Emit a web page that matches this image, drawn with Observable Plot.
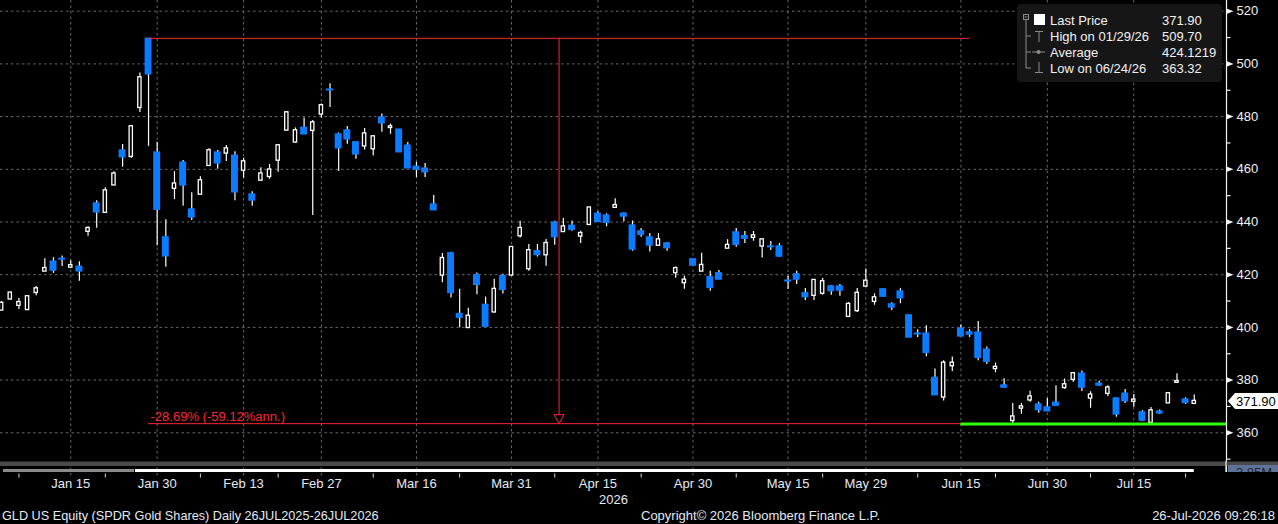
<!DOCTYPE html>
<html><head><meta charset="utf-8">
<script src="https://cdn.jsdelivr.net/npm/d3@7"></script>
<script src="https://cdn.jsdelivr.net/npm/@observablehq/plot@0.6"></script>
<style>
html,body{margin:0;padding:0;background:#000;}
#wrap{position:relative;width:1278px;height:524px;overflow:hidden;background:#000;}
#wrap svg{display:block;}
#over{position:absolute;left:0;top:0;pointer-events:none;}
</style></head><body><div id="wrap"></div>
<script>
// ---- data: trading days (GLD daily, Jan–Jul 2026) ----
const dates = [
"2026-01-05","2026-01-06","2026-01-07","2026-01-08","2026-01-09","2026-01-12","2026-01-13","2026-01-14","2026-01-15","2026-01-16",
"2026-01-20","2026-01-21","2026-01-22","2026-01-23","2026-01-26","2026-01-27","2026-01-28","2026-01-29","2026-01-30",
"2026-02-02","2026-02-03","2026-02-04","2026-02-05","2026-02-06","2026-02-09","2026-02-10","2026-02-11","2026-02-12","2026-02-13",
"2026-02-17","2026-02-18","2026-02-19","2026-02-20","2026-02-23","2026-02-24","2026-02-25","2026-02-26","2026-02-27",
"2026-03-02","2026-03-03","2026-03-04","2026-03-05","2026-03-06","2026-03-09","2026-03-10","2026-03-11","2026-03-12","2026-03-13",
"2026-03-16","2026-03-17","2026-03-18","2026-03-19","2026-03-20","2026-03-23","2026-03-24","2026-03-25","2026-03-26","2026-03-27","2026-03-30","2026-03-31",
"2026-04-01","2026-04-02","2026-04-06","2026-04-07","2026-04-08","2026-04-09","2026-04-10","2026-04-13","2026-04-14","2026-04-15",
"2026-04-16","2026-04-17","2026-04-20","2026-04-21","2026-04-22","2026-04-23","2026-04-24","2026-04-27","2026-04-28","2026-04-29","2026-04-30",
"2026-05-01","2026-05-04","2026-05-05","2026-05-06","2026-05-07","2026-05-08","2026-05-11","2026-05-12","2026-05-13","2026-05-14","2026-05-15",
"2026-05-18","2026-05-19","2026-05-20","2026-05-21","2026-05-22","2026-05-26","2026-05-27","2026-05-28","2026-05-29",
"2026-06-01","2026-06-02","2026-06-03","2026-06-04","2026-06-05","2026-06-08","2026-06-09","2026-06-10","2026-06-11","2026-06-12",
"2026-06-15","2026-06-16","2026-06-17","2026-06-18","2026-06-22","2026-06-23","2026-06-24","2026-06-25","2026-06-26","2026-06-29","2026-06-30",
"2026-07-01","2026-07-02","2026-07-06","2026-07-07","2026-07-08","2026-07-09","2026-07-10","2026-07-13","2026-07-14","2026-07-15",
"2026-07-16","2026-07-17","2026-07-20","2026-07-21","2026-07-22","2026-07-23","2026-07-24"];

const open = [406.6,410.8,408.4,406.8,413.3,421.4,424.9,426.0,422.9,423.0,
436.5,447.0,443.7,454.1,467.1,464.9,483.5,509.5,466.3,
434.1,452.8,462.5,444.7,450.6,461.5,466.3,466.2,465.1,459.7,
450.4,455.9,457.3,463.5,474.9,470.4,475.7,474.8,481.0,
490.2,473.2,474.7,470.2,468.9,467.8,479.6,475.9,475.0,468.9,
460.9,460.2,446.6,419.9,428.1,405.0,400.0,419.8,408.5,405.9,419.4,419.9,
434.8,422.3,428.9,427.6,439.7,436.4,438.5,434.7,439.1,443.1,
442.4,445.6,443.1,438.6,436.4,434.1,431.2,431.8,420.8,417.0,425.8,
421.4,419.0,420.5,430.1,436.0,434.6,434.2,430.9,430.7,430.7,417.7,
420.1,412.9,412.2,413.0,415.5,415.5,404.2,406.4,415.7,
409.9,414.4,408.7,413.6,404.5,397.6,397.6,380.8,373.6,385.5,
399.5,398.1,398.0,391.5,384.4,377.9,364.7,369.4,372.5,370.7,369.6,
371.4,377.2,380.3,382.4,373.2,378.6,375.0,373.0,374.8,372.0,
367.7,364.0,368.0,371.4,379.2,372.6,371.2];
const high = [409.8,413.4,411.0,411.8,415.5,426.1,426.5,427.1,425.3,424.9,
438.2,448.1,453.0,459.1,469.4,476.5,496.5,509.7,470.3,
440.9,459.1,463.3,451.1,457.2,467.8,467.1,469.0,466.7,464.2,
451.5,460.6,461.8,469.0,481.9,475.7,479.5,478.5,484.8,
492.5,473.8,476.2,470.5,475.5,472.4,481.0,477.2,475.1,470.2,
462.6,462.2,450.1,428.0,428.5,414.5,407.3,420.6,411.5,418.3,420.2,430.7,
440.3,431.5,431.5,433.4,440.3,441.3,440.4,436.5,445.4,443.9,
443.1,448.8,443.5,440.4,437.5,435.6,435.6,432.2,422.9,419.4,425.9,
428.1,421.3,421.6,433.3,437.5,436.4,436.4,433.3,432.6,431.8,419.4,
421.3,414.8,418.1,418.6,415.9,416.3,409.4,414.8,422.2,
412.7,414.8,409.4,414.8,404.8,399.1,400.6,384.2,387.3,388.8,
400.9,399.1,402.2,392.6,386.5,380.5,371.1,371.1,375.8,371.6,373.0,
377.9,380.4,382.5,383.5,375.6,379.6,377.9,373.1,376.4,374.5,
368.4,369.6,368.7,375.3,382.4,373.3,374.3];
const low = [406.5,410.6,406.8,406.7,412.0,421.3,420.5,423.1,422.6,417.5,
434.6,437.6,443.5,454.0,460.8,464.2,481.6,468.7,431.0,
422.8,448.5,446.0,440.6,450.4,461.1,460.0,463.0,448.1,456.6,
446.0,455.8,456.2,458.9,474.8,469.9,473.2,442.5,479.5,
483.5,459.2,469.5,463.8,467.3,465.0,474.1,473.3,466.4,460.3,
456.9,456.9,444.4,416.9,411.2,399.9,399.5,412.4,400.2,405.5,412.7,419.7,
433.9,421.3,426.7,423.2,431.2,436.0,436.5,431.8,439.0,440.0,
438.2,445.5,440.1,428.9,434.2,428.6,431.1,428.9,418.7,414.5,423.3,
421.3,413.7,418.1,430.0,430.4,431.8,432.7,426.3,429.2,426.8,414.4,
416.3,410.2,410.2,412.2,412.2,411.8,404.1,405.7,415.6,
408.4,411.6,406.4,409.0,396.1,396.2,388.9,374.2,372.1,383.3,
396.5,396.2,387.3,385.9,382.8,377.1,363.32,367.0,371.6,367.4,368.1,
370.2,376.5,379.2,375.7,369.3,377.6,373.8,365.9,371.1,369.7,
364.3,363.9,366.9,371.1,379.1,370.7,371.1];
const close = [409.1,413.0,409.4,411.6,414.6,422.3,421.6,425.8,423.4,421.3,
437.5,443.7,451.8,458.2,464.6,476.1,494.7,496.1,444.7,
427.0,454.4,453.9,441.8,455.6,467.0,462.3,467.7,451.3,462.8,
448.2,458.2,459.7,468.9,481.4,474.6,473.3,477.6,484.1,
490.0,468.0,471.4,465.7,473.4,472.3,477.5,476.1,466.5,460.4,
459.9,458.9,444.5,426.1,413.1,403.7,404.2,416.2,400.3,414.4,414.3,430.3,
437.5,429.1,427.5,431.8,434.3,438.1,437.1,435.6,445.3,440.1,
439.7,446.2,442.1,429.6,435.2,431.1,433.2,430.1,422.3,417.9,423.5,
423.5,415.0,418.2,431.1,431.4,433.7,434.7,433.2,430.5,426.9,417.5,
418.2,411.5,417.8,417.3,413.8,414.0,408.7,412.9,417.5,
411.2,411.7,407.6,411.1,396.2,397.4,390.4,374.3,386.4,386.4,
396.6,397.3,388.5,387.0,384.8,377.2,366.0,369.8,373.6,368.6,368.2,
370.3,378.2,382.4,377.2,374.3,378.0,377.0,367.0,372.0,372.4,
364.7,368.3,367.4,374.8,379.4,371.4,371.9];

const labelDates = ["2026-01-15","2026-01-30","2026-02-13","2026-02-27","2026-03-16","2026-03-31","2026-04-15","2026-04-30","2026-05-15","2026-05-29","2026-06-15","2026-06-30","2026-07-15"];
const labelText  = ["Jan 15","Jan 30","Feb 13","Feb 27","Mar 16","Mar 31","Apr 15","Apr 30","May 15","May 29","Jun 15","Jun 30","Jul 15"];
const minorTickDates = ["2026-01-07","2026-01-22","2026-02-06","2026-02-20","2026-03-09","2026-03-23","2026-04-08","2026-04-22","2026-05-07","2026-05-21","2026-06-08","2026-06-22","2026-07-08","2026-07-23"];
const yearLabel = "2026", yearLabelDate = "2026-04-15";
const yTicks = [360,380,400,420,440,460,480,500,520];
const yMinorTicks = [350,370,390,410,430,450,470,490,510];
const xDomain = [-0.13, 141.73];
const yDomain = [348.73, 524.06];

const legendLabels = ["Last Price","High on 01/29/26","Average","Low on 06/24/26"];
const legendValues = ["371.90","509.70","424.1219","363.32"];
const lastPrice = 371.90;
const periodHigh = 509.70, periodHighDate = "2026-01-29";
const periodLow = 363.32, lowLineStart = "2026-06-15";
const changePct = -28.69, changeAnn = -59.12, measureEndDate = "2026-06-16";
const footerLeft = "GLD US Equity (SPDR Gold Shares) Daily 26JUL2025-26JUL2026";
const footerMid = "Copyright\u00A9 2026 Bloomberg Finance L.P.";
const footerRight = "26-Jul-2026 09:26:18";
const volLabel = "3.85M";

// ---- build ----
const BLUE = "#0b7cff", RED = "#ff2333", GREEN = "#2dff0a", GRID = "#6a6a6a", TXT = "#e4eaf4";
const FONT = "Liberation Sans, Arial, sans-serif";
const idxOf = d => dates.indexOf(d);
const candles = dates.map((d, i) => ({i, date: d, open: open[i], high: high[i], low: low[i], close: close[i]}));
const up = candles.filter(c => c.close >= c.open);
const down = candles.filter(c => c.close < c.open);
const labelIdx = labelDates.map(idxOf);
const labelMap = new Map(labelIdx.map((v, k) => [v, labelText[k]]));
const minorIdx = minorTickDates.map(idxOf);

const iStart = idxOf(periodHighDate), iEnd = idxOf(measureEndDate);
const iMid = (iStart + iEnd) / 2;
const target = periodHigh * (1 + changePct / 100);
const measureText = `${changePct.toFixed(2)}% (${changeAnn.toFixed(2)}%ann.)`;

const rightTri = {draw(c) { c.moveTo(0, -2.8); c.lineTo(7, 0); c.lineTo(0, 2.8); c.closePath(); }};
const hTick = {draw(c) { c.moveTo(0, 0); c.lineTo(4, 0); }};
const vTick = {draw(c) { c.moveTo(0, 11); c.lineTo(0, 15); }};
const downTri = {draw(c) { c.moveTo(-5, -9); c.lineTo(5, -9); c.lineTo(0, 0); c.closePath(); }};

const chart = Plot.plot({
  width: 1278, height: 524,
  marginLeft: 0, marginRight: 52, marginTop: 0, marginBottom: 62,
  style: {background: "#000", color: "#f2f2f2", fontFamily: FONT, fontSize: "13px"},
  x: {domain: xDomain, label: null},
  y: {domain: yDomain, label: null},
  marks: [
    Plot.ruleY(yTicks, {stroke: GRID, strokeDasharray: "2.5,3"}),
    Plot.ruleX(labelIdx, {stroke: GRID, strokeDasharray: "2.5,3", insetBottom: -14}),
    Plot.ruleX(candles, {x: "i", y1: "low", y2: "high", stroke: "#ffffff", strokeWidth: 1.2}),
    Plot.rect(down, {x1: d => d.i - 0.4, x2: d => d.i + 0.4, y1: "open", y2: "close", fill: BLUE, insetTop: -0.8, insetBottom: -0.8}),
    Plot.rect(up, {x1: d => d.i - 0.19, x2: d => d.i + 0.19, y1: "open", y2: "close", fill: "#000", stroke: "#ffffff", strokeWidth: 1.3, insetTop: -0.6, insetBottom: -0.6}),
    // measurement annotation
    Plot.ruleY([{y: periodHigh, x1: iStart, x2: iEnd}], {y: "y", x1: "x1", x2: "x2", stroke: RED, strokeWidth: 1}),
    Plot.ruleY([{y: target, x1: iStart, x2: iEnd}], {y: "y", x1: "x1", x2: "x2", stroke: RED, strokeWidth: 1}),
    Plot.ruleX([{x: iMid, y1: periodHigh, y2: target}], {x: "x", y1: "y1", y2: "y2", stroke: RED, strokeWidth: 1}),
    Plot.dot([{x: iMid, y: target}], {x: "x", y: "y", symbol: downTri, fill: "#000", stroke: RED, strokeWidth: 1}),
    Plot.text([{x: iStart, y: target, t: measureText}], {x: "x", y: "y", text: "t", textAnchor: "start", lineAnchor: "bottom", dx: 2, dy: -3, fill: RED, fontSize: 13, fontFamily: FONT}),
    // low line
    Plot.ruleY([{y: periodLow, x1: idxOf(lowLineStart), x2: xDomain[1]}], {y: "y", x1: "x1", x2: "x2", stroke: GREEN, strokeWidth: 3}),
    // right axis
    Plot.ruleX([xDomain[1]], {stroke: "#f2f2f2", strokeWidth: 1.2, insetBottom: -10}),
    Plot.axisY({anchor: "right", ticks: yTicks, tickSize: 0, tickPadding: 10, fontSize: 13, fill: "#f2f2f2", tickFormat: d => String(d)}),
    Plot.dot(yTicks, {y: d => d, frameAnchor: "right", symbol: rightTri, fill: "#f2f2f2", stroke: "none"}),
    Plot.dot(yMinorTicks, {y: d => d, frameAnchor: "right", symbol: hTick, fill: "none", stroke: "#f2f2f2", strokeWidth: 1.2}),
    // bottom axis
    Plot.axisX({ticks: labelIdx, tickSize: 0, tickPadding: 16, fontSize: 13, fill: TXT, tickFormat: d => labelMap.get(d)}),
    Plot.dot(minorIdx, {x: d => d, frameAnchor: "bottom", symbol: vTick, fill: "none", stroke: "#d8d8d8", strokeWidth: 1}),
    Plot.text([yearLabel], {x: () => idxOf(yearLabelDate), frameAnchor: "bottom", text: d => d, textAnchor: "start", lineAnchor: "bottom", dx: 1, dy: 41, fill: TXT, fontSize: 13, fontFamily: FONT})
  ]
});

const wrap = document.getElementById("wrap");
wrap.appendChild(chart);

// ---- overlay: scroll strip, legend, last-price tag, footer ----
const yS = chart.scale("y");
const xS = chart.scale("x");
const frameRight = xS.apply(xDomain[1]);
const over = d3.select(wrap).append("svg").attr("id", "over").attr("width", 1278).attr("height", 524)
  .style("font-family", FONT);

// scroll / volume strip
over.append("rect").attr("x", 0).attr("y", 461.5).attr("width", 1278).attr("height", 4.5).attr("fill", "#4a4a4a");
over.append("rect").attr("x", 3).attr("y", 469).attr("width", 131).attr("height", 3).attr("fill", "#8a8a8a");
over.append("rect").attr("x", 135).attr("y", 469).attr("width", xS.apply(candles.length - 1) - 135).attr("height", 3).attr("fill", "#ffffff");
over.append("line").attr("x1", frameRight).attr("x2", frameRight).attr("y1", 461).attr("y2", 472).attr("stroke", "#f2f2f2").attr("stroke-width", 1.2);
const clip = over.append("clipPath").attr("id", "volclip");
clip.append("rect").attr("x", 1228).attr("y", 465).attr("width", 50).attr("height", 7);
over.append("rect").attr("x", 1228).attr("y", 465).attr("width", 50).attr("height", 7).attr("fill", "#5f7399");
over.append("text").attr("x", 1236).attr("y", 477).attr("font-size", 13).attr("fill", "#1a2538").attr("clip-path", "url(#volclip)").text(volLabel);

// legend
const lg = over.append("g").attr("transform", "translate(1017,4)");
lg.append("rect").attr("width", 205).attr("height", 78).attr("rx", 4).attr("fill", "#161616");
const ic = "#8c8c8c";
lg.append("rect").attr("x", 6.5).attr("y", 10.5).attr("width", 5).attr("height", 5).attr("fill", "none").attr("stroke", ic);
lg.append("line").attr("x1", 7.5).attr("x2", 10.5).attr("y1", 13).attr("y2", 13).attr("stroke", ic);
lg.append("line").attr("x1", 9).attr("x2", 9).attr("y1", 16).attr("y2", 64).attr("stroke", ic);
[32, 48, 64].forEach(y => lg.append("line").attr("x1", 9).attr("x2", 14).attr("y1", y).attr("y2", y).attr("stroke", ic));
lg.append("rect").attr("x", 17).attr("y", 10).attr("width", 11).attr("height", 11).attr("fill", "#ffffff");
lg.append("path").attr("d", "M18,27.5H26M22,27.5V38").attr("stroke", ic).attr("fill", "none");
lg.append("path").attr("d", "M15,48H28").attr("stroke", ic);
lg.append("circle").attr("cx", 21.5).attr("cy", 48).attr("r", 2).attr("fill", ic);
lg.append("path").attr("d", "M22,58V68.5M18,68.5H26").attr("stroke", ic).attr("fill", "none");
legendLabels.forEach((t, k) => {
  lg.append("text").attr("x", 33).attr("y", 21 + 16 * k).attr("font-size", 13).attr("fill", "#f2f2f2").text(t);
  lg.append("text").attr("x", 145).attr("y", 21 + 16 * k).attr("font-size", 13).attr("fill", "#f2f2f2").text(legendValues[k]);
});

// last price tag
const yc = yS.apply(lastPrice);
const tag = over.append("g").attr("transform", `translate(${frameRight + 2},${yc})`);
tag.append("path").attr("d", "M0,0L7,-8H52V8H7Z").attr("fill", "#ffffff");
tag.append("text").attr("x", 8).attr("y", 4.7).attr("font-size", 13).attr("fill", "#000").text(lastPrice.toFixed(2));

// footer
over.append("text").attr("x", 2).attr("y", 520).attr("font-size", 12.7).attr("fill", TXT).text(footerLeft);
over.append("text").attr("x", 641).attr("y", 520).attr("font-size", 13).attr("fill", TXT).text(footerMid);
over.append("text").attr("x", 1275).attr("y", 520).attr("font-size", 13).attr("text-anchor", "end").attr("fill", TXT).text(footerRight);
</script>
</body></html>
